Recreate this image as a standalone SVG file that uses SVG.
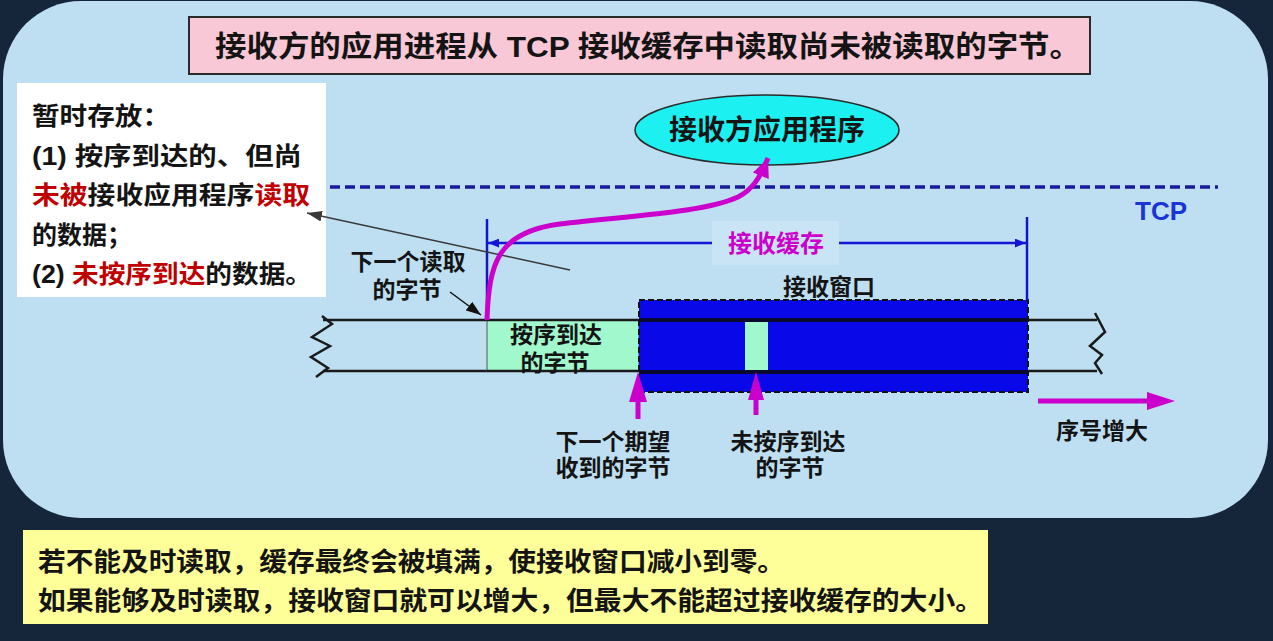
<svg xmlns="http://www.w3.org/2000/svg" width="1273" height="641" viewBox="0 0 1273 641">
<defs>
<style>
.t{font-family:"Liberation Sans","Noto Sans CJK SC",sans-serif;font-weight:bold;fill:#141414}
.c{text-anchor:middle}
.red{fill:#c00000}
.tape{stroke:#1a1a1a;stroke-width:2.5;fill:none}
</style>
<marker id="ab" viewBox="0 0 10 8" refX="10" refY="4" markerWidth="11" markerHeight="9" orient="auto-start-reverse" markerUnits="userSpaceOnUse"><path d="M0,0 L10,4 L0,8 z" fill="#1515d8"/></marker>
<marker id="ag" viewBox="0 0 14 10" refX="14" refY="5" markerWidth="15" markerHeight="11" orient="auto" markerUnits="userSpaceOnUse"><path d="M0,0 L14,5 L0,10 z" fill="#3a3a3a"/></marker>
<marker id="ak" viewBox="0 0 14 10" refX="14" refY="5" markerWidth="15" markerHeight="11" orient="auto" markerUnits="userSpaceOnUse"><path d="M0,0 L14,5 L0,10 z" fill="#111"/></marker>
<marker id="am" viewBox="0 0 18 16" refX="18" refY="8" markerWidth="20" markerHeight="17" orient="auto" markerUnits="userSpaceOnUse"><path d="M0,0 L18,8 L0,16 z" fill="#cc00cc"/></marker>
</defs>
<rect x="0" y="0" width="1273" height="641" fill="#15253a"/>
<rect id="panel" x="3" y="1" width="1265" height="517" rx="78" ry="78" fill="#bddff1"/>

<g id="title">
<rect x="189" y="17" width="901" height="57" fill="#f9c8d6" stroke="#2a2a2a" stroke-width="2"/>
<text class="t" x="215" y="57" font-size="29" textLength="866" lengthAdjust="spacingAndGlyphs">接收方的应用进程从 TCP 接收缓存中读取尚未被读取的字节。</text>
</g>

<g id="note">
<rect x="17" y="83" width="309" height="214" fill="#ffffff"/>
<text class="t" x="32" y="125" font-size="25" textLength="138" lengthAdjust="spacingAndGlyphs">暂时存放：</text>
<text class="t" x="32" y="165" font-size="25" textLength="270" lengthAdjust="spacingAndGlyphs">(1) 按序到达的、但尚</text>
<text class="t" x="32" y="204" font-size="25" textLength="278" lengthAdjust="spacingAndGlyphs"><tspan class="red">未被</tspan>接收应用程序<tspan class="red">读取</tspan></text>
<text class="t" x="32" y="244" font-size="25">的数据；</text>
<text class="t" x="32" y="283" font-size="25" textLength="280" lengthAdjust="spacingAndGlyphs">(2) <tspan class="red">未按序到达</tspan>的数据。</text>
</g>

<g id="app">
<ellipse cx="767" cy="130" rx="132" ry="35" fill="#1cf0f0" stroke="#2a2a2a" stroke-width="1.5"/>
<text class="t c" x="767" y="140" font-size="28">接收方应用程序</text>
</g>

<g id="tcp-layer">
<line x1="330" y1="187" x2="1218" y2="187" stroke="#1a1a9a" stroke-width="3.5" stroke-dasharray="10,5"/>
<text x="1161" y="220" font-size="26" text-anchor="middle" font-family="Liberation Sans,sans-serif" font-weight="bold" fill="#1c34d4">TCP</text>
</g>

<g id="tape">
<line class="tape" x1="323" y1="320" x2="487" y2="320"/>
<line class="tape" x1="323" y1="371" x2="487" y2="371"/>
<polyline class="tape" points="322,316 332,324 312,337 330,346 311,357 328,368 316,377"/>
<line class="tape" x1="1028" y1="320" x2="1097" y2="320"/>
<line class="tape" x1="1028" y1="371" x2="1097" y2="371"/>
<polyline class="tape" points="1095,313 1105,332 1090,346 1102,355 1095,363 1102,374"/>
</g>

<g id="inorder">
<rect x="487" y="320" width="152" height="51" fill="#a0f8cc" stroke="#555" stroke-width="1"/>
<line class="tape" x1="487" y1="320" x2="639" y2="320"/>
<line class="tape" x1="487" y1="371" x2="639" y2="371"/>
<text class="t c" x="556" y="343" font-size="23">按序到达</text>
<text class="t c" x="555" y="371" font-size="23">的字节</text>
</g>

<g id="window">
<rect x="639" y="300" width="389" height="92" fill="#0808e8" stroke="#111" stroke-width="2" stroke-dasharray="6,3"/>
<line x1="639" y1="320" x2="1028" y2="320" stroke="#0a0a30" stroke-width="4"/>
<line x1="639" y1="372" x2="1028" y2="372" stroke="#0a0a30" stroke-width="4"/>
<rect x="745" y="322" width="23" height="48" fill="#a0f8cc"/>
<text class="t c" x="829" y="295" font-size="23">接收窗口</text>
</g>

<g id="buffer">
<rect x="712" y="221" width="127" height="44" fill="#c8e4f5"/>
<text class="c" x="776" y="252" font-size="24" font-family="Liberation Sans,Noto Sans CJK SC,sans-serif" font-weight="bold" fill="#cc00cc">接收缓存</text>
</g>

<g id="labels">
<text class="t c" x="408" y="270" font-size="23">下一个读取</text>
<text class="t c" x="407" y="298" font-size="23">的字节</text>
<text class="t c" x="613" y="450" font-size="23">下一个期望</text>
<text class="t c" x="613" y="476" font-size="23">收到的字节</text>
<text class="t c" x="788" y="450" font-size="23">未按序到达</text>
<text class="t c" x="790" y="476" font-size="23">的字节</text>
<text class="t c" x="1102" y="439" font-size="23">序号增大</text>
</g>

<g id="connectors">
<line x1="487" y1="219" x2="487" y2="320" stroke="#1515c8" stroke-width="2.5"/>
<line x1="1027" y1="217" x2="1027" y2="300" stroke="#1515c8" stroke-width="2.5"/>
<line x1="488" y1="243" x2="712" y2="243" stroke="#1515d8" stroke-width="2.5" marker-start="url(#ab)"/>
<line x1="839" y1="243" x2="1026" y2="243" stroke="#1515d8" stroke-width="2.5" marker-end="url(#ab)"/>
<line x1="570" y1="270" x2="307" y2="213" stroke="#3a3a3a" stroke-width="1.5" marker-end="url(#ag)"/>
<line x1="450" y1="292" x2="481" y2="315" stroke="#111" stroke-width="1.5" marker-end="url(#ak)"/>
<path d="M487,320 C489,262 498,232 560,224 C640,215 705,212 738,197 C752,190 760,178 768,158" fill="none" stroke="#cc00cc" stroke-width="5" marker-end="url(#am)"/>
<line x1="638" y1="419" x2="638" y2="400" stroke="#cc00cc" stroke-width="5"/>
<polygon points="638,372 647,402 629,402" fill="#cc00cc"/>
<line x1="756" y1="415" x2="756" y2="398" stroke="#cc00cc" stroke-width="5"/>
<polygon points="756,372 764,400 748,400" fill="#cc00cc"/>
<line x1="1038" y1="401" x2="1150" y2="401" stroke="#cc00cc" stroke-width="5"/>
<polygon points="1175,401 1147,392 1147,410" fill="#cc00cc"/>
</g>

<g id="summary">
<rect x="23" y="530" width="965" height="94" fill="#ffff99"/>
<text class="t" x="38" y="571" font-size="26" textLength="747" lengthAdjust="spacingAndGlyphs">若不能及时读取，缓存最终会被填满，使接收窗口减小到零。</text>
<text class="t" x="38" y="610" font-size="26" textLength="945" lengthAdjust="spacingAndGlyphs">如果能够及时读取，接收窗口就可以增大，但最大不能超过接收缓存的大小。</text>
</g>
</svg>
